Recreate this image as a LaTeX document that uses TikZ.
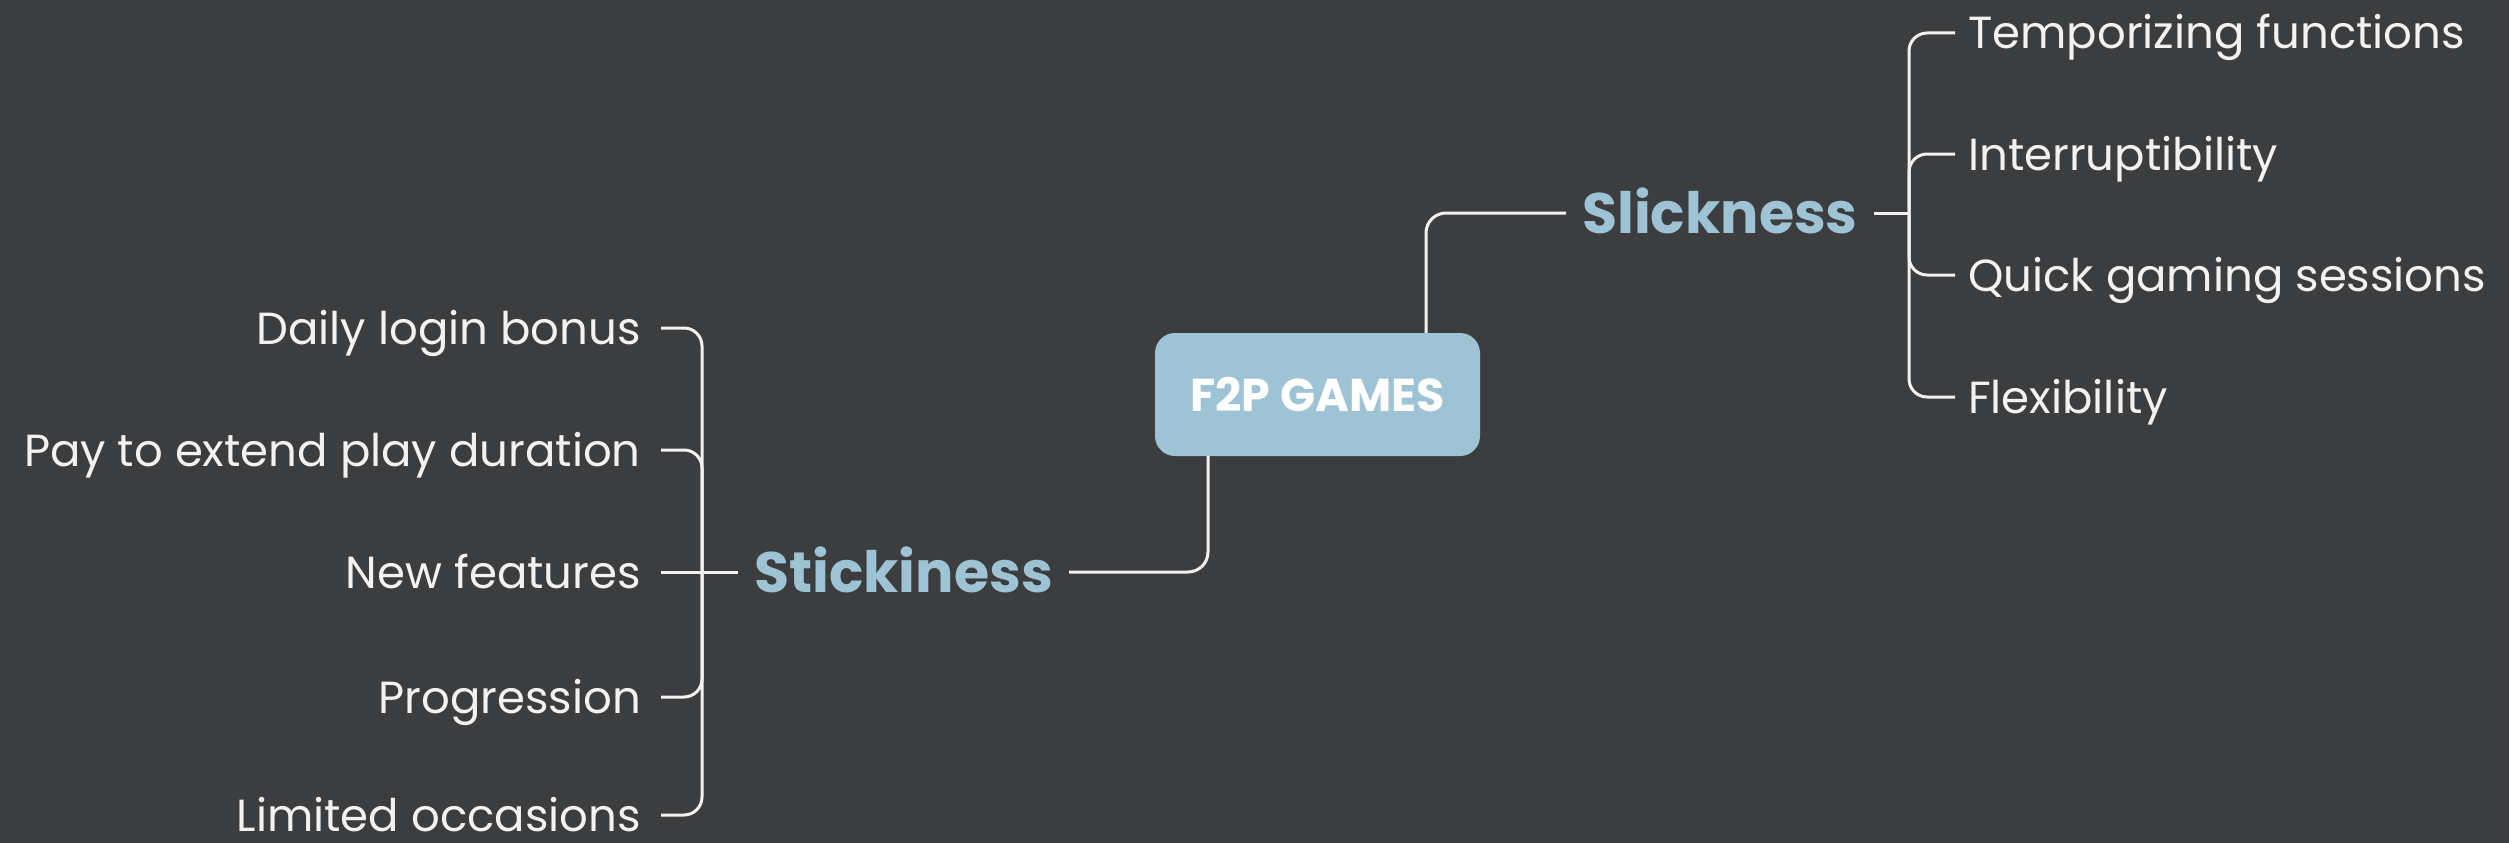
\documentclass[tikz,border=0pt]{standalone}
\usepackage{fontspec}
\setmainfont{Poppins}
\definecolor{bgc}{RGB}{60,61,63}
\definecolor{sky}{RGB}{158,195,213}
\definecolor{linec}{RGB}{242,242,242}
\begin{document}
\begin{tikzpicture}[x=1pt,y=-1pt,
  conn/.style={draw=linec, line width=3pt, rounded corners=18pt},
  rootbox/.style={fill=sky, rounded corners=20pt, minimum width=325pt, minimum height=123pt,
     text=white, font=\fontsize{46}{50}\selectfont\bfseries, inner sep=0pt},
  head/.style={text=sky, font=\fontsize{57}{62}\selectfont\bfseries, text height=40pt, text depth=0pt, inner ysep=0pt, inner xsep=16pt},
  itemR/.style={text=linec, font=\fontsize{45}{50}\selectfont, text height=32pt, text depth=0pt, inner ysep=0pt, inner xsep=13pt, anchor=west},
  itemL/.style={text=linec, font=\fontsize{45}{50}\selectfont, text height=32pt, text depth=0pt, inner ysep=0pt, inner xsep=20pt, anchor=east}
]
\useasboundingbox (0,0) rectangle (2509,843);
\fill[bgc] (0,0) rectangle (2509,843);

\node[rootbox] (root) at (1317.5,394.5) {F2P GAMES};

\node[head, anchor=west] (slick) at (1566,213) {Slickness};
\node[head, anchor=east] (stick) at (1069,572) {Stickiness};

\coordinate (bR) at (1909,213);
\coordinate (bL) at (702,572);

\node[itemR] (t1) at (1955,33) {Temporizing functions};
\node[itemR] (t2) at (1955,154) {Interruptibility};
\node[itemR] (t3) at (1955,275) {Quick gaming sessions};
\node[itemR] (t4) at (1955,397) {Flexibility};

\node[itemL] (s1) at (661,328) {Daily login bonus};
\node[itemL] (s2) at (661,450) {Pay to extend play duration};
\node[itemL] (s3) at (661,572) {New features};
\node[itemL] (s4) at (661,697) {Progression};
\node[itemL] (s5) at (661,815) {Limited occasions};

% root connections
\draw[conn, rounded corners=20pt] ([xshift=108.5pt]root.north) |- (slick.west);
\draw[conn, rounded corners=20pt] ([xshift=-109.5pt]root.south) |- (stick.east);

% right bracket
\draw[conn] (slick.east) -- (bR);
\draw[conn] (t1.west) -| (bR) |- (t4.west);
\draw[conn] (t2.west) -| (bR);
\draw[conn] (t3.west) -| (bR);

% left bracket
\draw[conn] (stick.west) -- (bL) -- (s3.east);
\draw[conn] (s1.east) -| (bL) |- (s5.east);
\draw[conn] (s2.east) -| (bL);
\draw[conn] (s4.east) -| (bL);
\end{tikzpicture}
\end{document}
